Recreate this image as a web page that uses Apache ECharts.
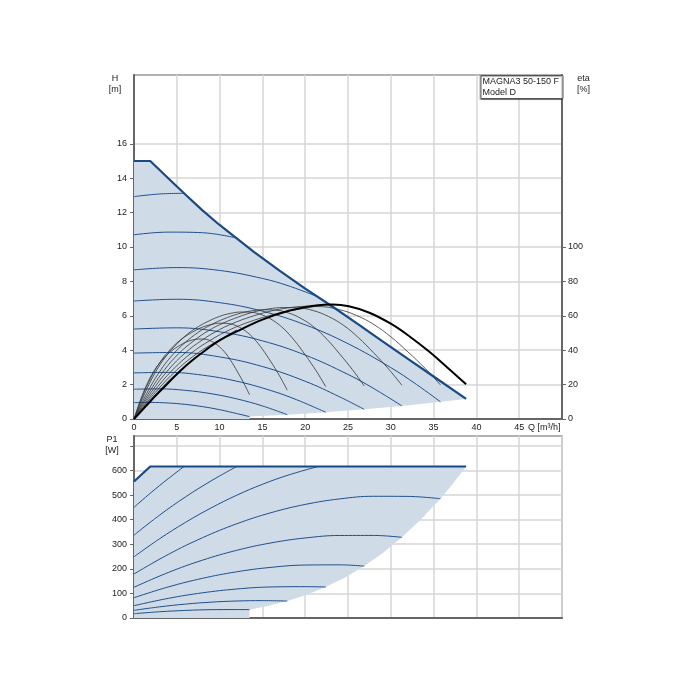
<!DOCTYPE html>
<html><head><meta charset="utf-8">
<script src="https://cdn.jsdelivr.net/npm/echarts@6/dist/echarts.min.js"></script>
<style>html,body{margin:0;padding:0;background:#fff}#c{width:700px;height:700px}</style>
</head><body><div id="c"></div>
<script>
// ---------- tick labels ----------
const qTicks = [0,5,10,15,20,25,30,35,40,45];
const hTicks = [0,2,4,6,8,10,12,14,16];
const etaTicks = [0,20,40,60,80,100];
const pTicks = [0,100,200,300,400,500,600];
const pTickMarks = [0,100,200,300,400,500,600,700];

// ---------- H [m] vs Q [m3/h] ----------
const maxCurve = [[0,15],[1.9,15],[4,14.0],[6,13.05],[8,12.13],[10,11.28],[12,10.5],[14,9.72],[17,8.63],[20,7.58],[23,6.6],[26,5.57],[29,4.53],[32,3.5],[35,2.47],[38.8,1.17]];
const minCurve = [[38.8,1.17],[35.8,1.0],[31.3,0.76],[26.9,0.56],[22.4,0.39],[17.9,0.25],[13.5,0.14],[13.5,0],[0,0]];
const hSpeed1 = [[0,0.95],[2,0.964],[4,0.93],[6,0.849],[8,0.719],[10,0.542],[12,0.317],[13.5,0.14]];
const hSpeed2 = [[0,1.73],[3,1.752],[6,1.666],[9,1.472],[12,1.171],[15,0.761],[17.9,0.25]];
const hSpeed3 = [[0,2.68],[4,2.71],[8,2.549],[12,2.197],[16,1.653],[19,1.12],[22.4,0.39]];
const hSpeed4 = [[0,3.83],[5,3.869],[10,3.61],[15,3.051],[20,2.194],[24,1.293],[26.9,0.56]];
const hSpeed5 = [[0,5.23],[5,5.3],[10,5.072],[15,4.544],[20,3.718],[25,2.592],[28,1.774],[31.3,0.76]];
const hSpeed6 = [[0,6.86],[5,6.962],[10,6.765],[15,6.27],[20,5.476],[25,4.38],[30,2.987],[33,2.008],[35.8,1.0]];
const hSpeed7 = [[0,8.67],[5,8.803],[10,8.637],[15,8.172],[18,7.749],[21.5,7.1]];
const hSpeed8 = [[0,10.71],[4,10.865],[8,10.83],[12,10.52]];
const hSpeed9 = [[0,12.93],[3,13.083],[5.85,13.12]];

// ---------- eta [%] vs Q ----------
const etaMax = [[0,0],[1.9,10.2],[3,16],[5.9,30.2],[8,38.7],[10,45.7],[12,50.9],[15,57.8],[18,62.8],[21.5,66.2],[23.2,66.5],[25.1,65.5],[27.5,61.8],[30,55.4],[32.2,48],[34.4,39.5],[36.6,30],[38.8,20.2]];
const eta1 = [[0,0],[0.75,11.0],[1.51,20.2],[2.26,27.3],[3.02,32.7],[3.77,36.9],[4.52,40.1],[5.28,42.6],[6.03,44.6],[6.79,45.9],[7.54,46.5],[8.29,46.4],[9.05,45.2],[9.8,42.7],[10.56,39.1],[11.31,33.9],[12.06,27.7],[12.82,20.9],[13.5,14.1]];
const eta2 = [[0,0],[1,13.2],[2,24.2],[3,32.7],[4,39.1],[5,44.2],[6,48.0],[7,51.0],[8,53.4],[9,54.9],[10,55.7],[11,55.5],[12,54.1],[13,51.2],[14,46.8],[15,40.6],[16,33.2],[17,25.1],[17.9,16.8]];
const eta3 = [[0,0],[1.25,14.7],[2.5,27.1],[3.76,36.6],[5.01,43.7],[6.26,49.4],[7.51,53.7],[8.76,57.0],[10.02,59.7],[11.27,61.4],[12.52,62.2],[13.77,62.0],[15.02,60.4],[16.28,57.2],[17.53,52.3],[18.78,45.4],[20.03,37.1],[21.28,28.0],[22.4,18.8]];
const eta4 = [[0,0],[1.5,15.0],[3.0,27.6],[4.51,37.3],[6.01,44.6],[7.51,50.4],[9.01,54.8],[10.51,58.2],[12.02,60.9],[13.52,62.7],[15.02,63.5],[16.52,63.3],[18.02,61.7],[19.53,58.4],[21.03,53.4],[22.53,46.4],[24.03,37.8],[25.53,28.6],[26.9,19.2]];
const eta5 = [[0,0],[1.75,15.3],[3.5,28.2],[5.24,38.1],[6.99,45.5],[8.74,51.5],[10.49,55.9],[12.24,59.4],[13.98,62.2],[15.73,64.0],[17.48,64.8],[19.23,64.6],[20.98,63.0],[22.72,59.6],[24.47,54.5],[26.22,47.3],[27.97,38.6],[29.72,29.2],[31.3,19.6]];
const eta6 = [[0,0],[2,15.5],[4,28.5],[6,38.5],[8,46],[10,52],[12,56.5],[14,60],[16,62.8],[18,64.6],[20,65.5],[22,65.3],[24,63.6],[26,60.2],[28,55],[30,47.8],[32,39],[34,29.5],[35.8,19.8]];
const eta7 = [[0,0],[2.25,15.5],[4.5,28.5],[6.74,38.5],[8.99,46],[11.24,52],[13.49,56.5],[15.74,60],[17.98,62.8],[20.23,64.6],[21.5,65.8]];
const eta8 = [[0,0],[2.5,15.5],[5.0,28.5],[7.49,38.5],[9.99,46],[12.0,51.8]];
const eta9 = [[0,0],[1.37,8],[2.75,15.5],[4.12,22.5],[5.49,28.5],[5.85,30.0]];

// ---------- P1 [W] vs Q ----------
const pMaxCurve = [[0,555],[1.9,616],[38.8,616]];
const pMinCurve = [[38.8,616],[37.3,548],[35.8,485],[33.5,400],[31.3,328],[29.1,265],[26.9,211],[24.6,164],[22.4,126],[20.1,94],[17.9,69],[15.7,50],[13.5,34],[13.5,0],[0,0]];
const pSpeed1 = [[0,17.5],[3,25.4],[6,30.8],[9,33.8],[12,34.3],[13.5,34]];
const pSpeed2 = [[0,31],[3,45.4],[6,56.5],[9,64.4],[12,69.1],[15,70.6],[17.9,69]];
const pSpeed3 = [[0,50],[4,79.8],[8,102.4],[12,117.9],[16,126.2],[20,127.4],[22.4,126]];
const pSpeed4 = [[0,82.5],[4,126.2],[8,161.3],[12,187.9],[16,205.9],[20,215.3],[24,216.1],[26.9,211]];
const pSpeed5 = [[0,125],[4,185],[8,235.1],[12,275.2],[16,305.3],[20,325.4],[24,335.5],[28,335.7],[31.3,328]];
const pSpeed6 = [[0,179],[4,258.4],[8,326.4],[12,383],[16,428.1],[20,461.8],[24,484.1],[28,494.9],[32,494.4],[35.8,485]];
const pSpeed7 = [[0,249],[3,322.4],[6,388.5],[9,447.4],[12,499.1],[15,543.6],[18,580.8],[21.5,616]];
const pSpeed8 = [[0,337],[3,418.5],[6,491.9],[9,557.4],[12,616]];
const pSpeed9 = [[0,450],[2,510.2],[4,566.6],[5.85,616]];

// ---------- styling ----------
const FILL = '#cfdbe7';
const BLUE = '#1f4f8c';
const MAXBLUE = '#1a4a84';
const GRIDC = '#d6d6d6';
const AXISC = '#666';
const FONT = 'Liberation Sans, Arial, sans-serif';

function areaSeries(upper, lower, xi, yi) {
  const pts = upper.concat(lower);
  return {
    type: 'custom', xAxisIndex: xi, yAxisIndex: yi, silent: true, z: 1,
    data: pts,
    renderItem: function (params, api) {
      if (params.dataIndex !== 0) return null;
      const p = pts.map(d => api.coord(d));
      return { type: 'polygon', shape: { points: p }, style: { fill: FILL } };
    }
  };
}
function lineS(data, xi, yi, color, width, z, smooth) {
  return { type: 'line', data: data, xAxisIndex: xi, yAxisIndex: yi, showSymbol: false, symbol: 'none',
    smooth: smooth, silent: true, z: z, lineStyle: { color: color, width: width }, clip: true };
}

const series = [];
series.push(areaSeries(maxCurve, minCurve, 0, 0));
[hSpeed1,hSpeed2,hSpeed3,hSpeed4,hSpeed5,hSpeed6,hSpeed7,hSpeed8,hSpeed9].forEach(d => series.push(lineS(d, 0, 0, BLUE, 1, 3, 0.4)));
[eta1,eta2,eta3,eta4,eta5,eta6,eta7,eta8,eta9].forEach(d => series.push(lineS(d, 0, 1, '#333', 0.8, 4, 0.4)));
series.push(lineS(maxCurve, 0, 0, MAXBLUE, 2.2, 5, false));
series.push(lineS(etaMax, 0, 1, '#000', 2, 6, 0.4));

series.push(areaSeries(pMaxCurve, pMinCurve, 1, 2));
[pSpeed1,pSpeed2,pSpeed3,pSpeed4,pSpeed5,pSpeed6,pSpeed7,pSpeed8,pSpeed9].forEach(d => series.push(lineS(d, 1, 2, BLUE, 1, 3, 0.4)));
series.push(lineS(pMaxCurve, 1, 2, MAXBLUE, 2.2, 5, false));

const lbl = { fontSize: 9, color: '#222', fontFamily: FONT };

const option = {
  animation: false,
  backgroundColor: '#fff',
  textStyle: { fontFamily: FONT },
  title: {
    text: 'MAGNA3 50-150 F\nModel D',
    right: 137, top: 75,
    backgroundColor: '#fff', borderColor: '#555', borderWidth: 1,
    padding: [1, 4, 1, 2],
    shadowColor: 'rgba(0,0,0,0.35)', shadowOffsetX: -1, shadowOffsetY: 1, shadowBlur: 1,
    textStyle: { fontSize: 9, fontWeight: 'normal', color: '#222', lineHeight: 11, fontFamily: FONT }
  },
  grid: [
    { left: 134, width: 428, top: 75, height: 344, show: true, borderColor: '#999', borderWidth: 1.5, backgroundColor: 'transparent' },
    { left: 134, width: 428, top: 436, height: 182, show: true, borderColor: '#999', borderWidth: 1.5, backgroundColor: 'transparent' }
  ],
  xAxis: [
    { type: 'value', gridIndex: 0, min: 0, max: 50, interval: 5,
      name: 'Q [m³/h]', nameLocation: 'end', nameGap: -39,
      nameTextStyle: { fontSize: 9, color: '#222', align: 'left', verticalAlign: 'top', padding: [4, 0, 0, 0], fontFamily: FONT },
      axisLine: { show: true, onZero: false, lineStyle: { color: AXISC, width: 2 } },
      axisTick: { show: false },
      axisLabel: Object.assign({ margin: 4, customValues: qTicks }, lbl),
      splitLine: { show: true, lineStyle: { color: GRIDC, width: 1.5 } } },
    { type: 'value', gridIndex: 1, min: 0, max: 50, interval: 5,
      axisLine: { show: true, onZero: false, lineStyle: { color: AXISC, width: 2 } },
      axisTick: { show: false }, axisLabel: { show: false },
      splitLine: { show: true, lineStyle: { color: GRIDC, width: 1.5 } } }
  ],
  yAxis: [
    { type: 'value', gridIndex: 0, min: 0, max: 20, interval: 2, position: 'left',
      name: 'H\n[m]', nameLocation: 'end', nameGap: 2,
      nameTextStyle: { fontSize: 9, color: '#222', align: 'center', verticalAlign: 'top', lineHeight: 11, padding: [0, 38, 0, 0], fontFamily: FONT },
      axisLine: { show: true, onZero: false, lineStyle: { color: AXISC, width: 2 } },
      axisTick: { show: true, length: 4, customValues: hTicks, lineStyle: { color: AXISC } },
      axisLabel: Object.assign({ margin: 7, customValues: hTicks }, lbl),
      splitLine: { show: true, lineStyle: { color: GRIDC, width: 1.5 } } },
    { type: 'value', gridIndex: 0, min: 0, max: 200, interval: 20, position: 'right',
      name: 'eta\n[%]', nameLocation: 'end', nameGap: 2,
      nameTextStyle: { fontSize: 9, color: '#222', align: 'center', verticalAlign: 'top', lineHeight: 11, padding: [0, 0, 0, 43], fontFamily: FONT },
      axisLine: { show: true, onZero: false, lineStyle: { color: AXISC, width: 2 } },
      axisTick: { show: true, length: 4, customValues: etaTicks, lineStyle: { color: AXISC } },
      axisLabel: Object.assign({ margin: 6, customValues: etaTicks }, lbl),
      splitLine: { show: false } },
    { type: 'value', gridIndex: 1, min: 0, max: 740, interval: 100, position: 'left',
      name: 'P1\n[W]', nameLocation: 'end', nameGap: 2,
      nameTextStyle: { fontSize: 9, color: '#222', align: 'center', verticalAlign: 'top', lineHeight: 11, padding: [0, 44, 0, 0], fontFamily: FONT },
      axisLine: { show: true, onZero: false, lineStyle: { color: AXISC, width: 2 } },
      axisTick: { show: true, length: 4, customValues: pTickMarks, lineStyle: { color: AXISC } },
      axisLabel: Object.assign({ margin: 7, customValues: pTicks }, lbl),
      splitLine: { show: true, lineStyle: { color: GRIDC, width: 1.5 } } }
  ],
  series: series
};
const chart = echarts.init(document.getElementById('c'), null, { renderer: 'canvas' });
chart.setOption(option);
</script>
</body></html>
